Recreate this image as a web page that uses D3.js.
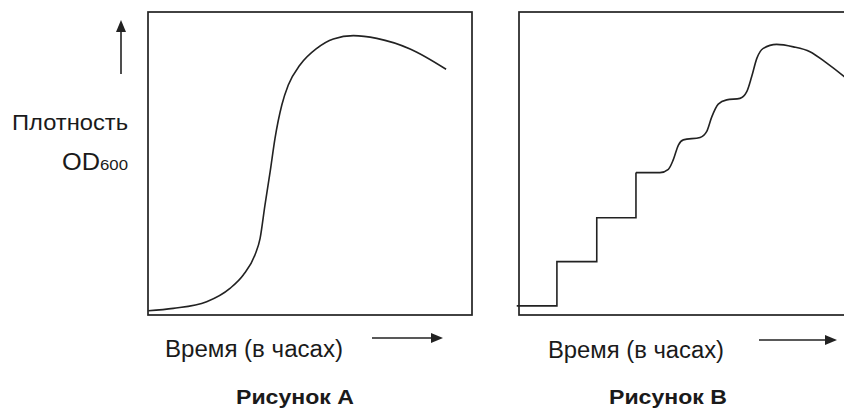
<!DOCTYPE html>
<html><head><meta charset="utf-8">
<script src="https://cdn.jsdelivr.net/npm/d3@7/dist/d3.min.js"></script>
<style>
html,body{margin:0;padding:0;background:#fff;}
svg{display:block;}
text{font-family:"Liberation Sans",Arial,sans-serif;fill:#1a1a1a;}
</style></head>
<body><svg id="c" width="844" height="408"></svg>
<script>
// Panel A: growth curve (time, OD600)
const timeA = [0.01,0.78,1.81,2.53,2.94,3.30,3.46,3.61,3.77,3.92,4.13,4.33,4.69,5.21,5.72,6.34,7.06,8.09,9.20];
const odA   = [0.014,0.022,0.044,0.088,0.132,0.198,0.253,0.363,0.473,0.583,0.693,0.759,0.825,0.880,0.911,0.922,0.913,0.878,0.811];
// Panel B: synchronous culture, stepped part
const timeBsteps = [-0.07,1.17,2.40,3.61];
const odBsteps   = [0.030,0.176,0.321,0.470];
// Panel B: smooth part
const timeB = [3.61,4.35,4.61,4.76,4.92,5.07,5.59,5.79,5.95,6.15,6.41,6.82,7.03,7.18,7.34,7.54,7.95,8.47,8.98,9.50,10.01,10.52];
const odB   = [0.470,0.470,0.481,0.512,0.561,0.578,0.586,0.605,0.654,0.696,0.710,0.715,0.737,0.786,0.847,0.880,0.893,0.885,0.869,0.831,0.789,0.743];

const yLabel = "Плотность";
const odLabel = "OD";
const odSub = "600";
const xLabel = "Время (в часах)";
const titles = ["Рисунок А","Рисунок В"];

const svg = d3.select("#c");
const ink = "#222";

const y = d3.scaleLinear().domain([0,1]).range([315,12]);
const xA = d3.scaleLinear().domain([0,10]).range([148,472]);
const xB = d3.scaleLinear().domain([0,10]).range([519,843]);

// frames
svg.append("rect").attr("x",148).attr("y",12).attr("width",324).attr("height",303)
  .attr("fill","none").attr("stroke",ink).attr("stroke-width",1.7);
svg.append("rect").attr("x",519).attr("y",12).attr("width",360).attr("height",303)
  .attr("fill","none").attr("stroke",ink).attr("stroke-width",1.7);

// curves
const lineA = d3.line().x((d,i)=>xA(timeA[i])).y((d,i)=>y(odA[i])).curve(d3.curveMonotoneX);
svg.append("path").attr("d",lineA(timeA)).attr("fill","none").attr("stroke",ink).attr("stroke-width",1.6);

const lineBs = d3.line().x((d,i)=>xB(timeBsteps[i])).y((d,i)=>y(odBsteps[i])).curve(d3.curveStepAfter);
svg.append("path").attr("d",lineBs(timeBsteps)).attr("fill","none").attr("stroke",ink).attr("stroke-width",1.6);

const lineB = d3.line().x((d,i)=>xB(timeB[i])).y((d,i)=>y(odB[i])).curve(d3.curveMonotoneX);
svg.append("path").attr("d",lineB(timeB)).attr("fill","none").attr("stroke",ink).attr("stroke-width",1.6);

// arrows
function arrowUp(x,y0,y1){
  svg.append("line").attr("x1",x).attr("x2",x).attr("y1",y0).attr("y2",y1+10).attr("stroke",ink).attr("stroke-width",1.6);
  svg.append("path").attr("d",`M${x},${y1} L${x-5},${y1+12} L${x+5},${y1+12} Z`).attr("fill",ink);
}
function arrowRight(x0,x1,yy){
  svg.append("line").attr("x1",x0).attr("x2",x1-10).attr("y1",yy).attr("y2",yy).attr("stroke",ink).attr("stroke-width",1.6);
  svg.append("path").attr("d",`M${x1},${yy} L${x1-12},${yy-5} L${x1-12},${yy+5} Z`).attr("fill",ink);
}
arrowUp(121,74,20);
arrowRight(372,443,338);
arrowRight(759,837,340);

function label(x,yy,size,len,str,bold){
  return svg.append("text").attr("x",x).attr("y",yy).attr("font-size",size)
    .attr("font-weight",bold?"bold":"normal")
    .attr("textLength",len).attr("lengthAdjust","spacingAndGlyphs").text(str);
}
// y label
label(12,130,22.5,116,yLabel,false);
label(62,170,23,38,odLabel,false);
label(100,170,14,28,odSub,false);

// x labels
label(165,356.5,23,178,xLabel,false);
label(548,358,23,176,xLabel,false);

// titles
label(236,404,21,118,titles[0],true);
label(609,404,21,118,titles[1],true);
</script></body></html>
